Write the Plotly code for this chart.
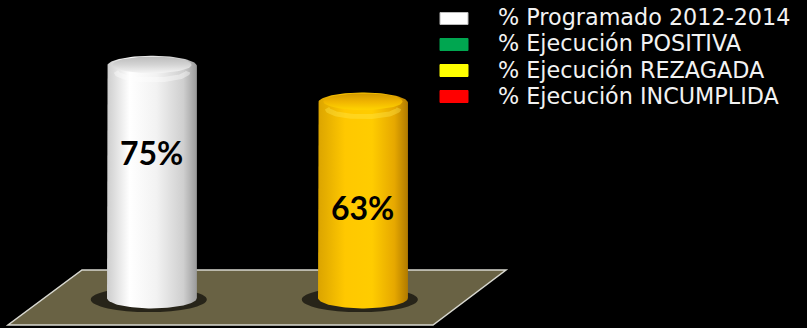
import numpy as np
import plotly.graph_objects as go

# ---- data ----
legend_labels = ["% Programado 2012-2014", "% Ejecución POSITIVA",
                 "% Ejecución REZAGADA", "% Ejecución INCUMPLIDA"]
legend_colors = ["#ffffff", "#00a650", "#ffff00", "#ff0000"]
bar_names = ["% Programado 2012-2014", "% Ejecución REZAGADA"]
bar_values = [75, 63]

# ---- styles ----
W, H = 807, 328
body_scales = [
    [[0, "#cdcdcd"], [0.25, "#ffffff"], [0.55, "#f2f2f2"], [0.85, "#cfcfcf"], [1, "#9a9a9a"]],
    [[0, "#dba400"], [0.3, "#ffc800"], [0.6, "#ffcc00"], [0.85, "#e6a800"], [1, "#b07a00"]],
]
cap_scales = [
    [[0, "#f4f4f4"], [0.5, "#d4d4d4"], [1, "#bcbcbc"]],
    [[0, "#ffd400"], [0.5, "#f0b400"], [1, "#d29a00"]],
]
rim_colors = ["#ffffff", "#ffe64a"]
label_frac = [0.635, 0.47]
half_w = 0.213      # x units
ell_h = 3.4         # y units
x_range = [-0.720, 3.104]
y_range = [-9.8, 97.4]

fig = go.Figure()

t = np.linspace(0, np.pi, 60)
for i, (name, v) in enumerate(zip(bar_names, bar_values)):
    top_x = i - half_w * np.cos(t)
    top_y = v + 0.8 + ell_h * np.sin(t)
    bot_x = i + half_w * np.cos(t)
    bot_y = 0 - ell_h * np.sin(t)
    xs = np.concatenate([[i - half_w], top_x, [i + half_w], bot_x])
    ys = np.concatenate([[0], top_y, [0], bot_y])
    fig.add_trace(go.Scatter(
        x=xs, y=ys, mode="lines", fill="toself", line=dict(width=0),
        fillgradient=dict(type="horizontal", colorscale=body_scales[i]),
        hoverinfo="skip", showlegend=False, name=name))
    rx = i - 0.8 * half_w * np.cos(t)
    ry = v - 1.0 - 0.8 * ell_h * np.sin(t)
    fig.add_trace(go.Scatter(
        x=rx, y=ry, mode="lines", line=dict(width=5, color=rim_colors[i]),
        opacity=0.4, hoverinfo="skip", showlegend=False))
    tt = np.linspace(0, 2 * np.pi, 100)
    cx = i + 0.88 * half_w * np.cos(tt)
    cy = v + 1.2 + 0.8 * ell_h * np.sin(tt)
    fig.add_trace(go.Scatter(
        x=cx, y=cy, mode="lines", fill="toself", line=dict(width=0),
        fillgradient=dict(type="vertical", colorscale=cap_scales[i]),
        hoverinfo="skip", showlegend=False))
    fig.add_annotation(x=i, y=v * label_frac[i], text=f"<b>{v}%</b>",
                       showarrow=False, font=dict(family="Lato", size=32, color="#000000"))

shapes = []
pts = [(82, 270), (506, 270), (433, 325), (8, 325)]
path = "M " + " L ".join(f"{x / W:.4f},{1 - y / H:.4f}" for x, y in pts) + " Z"
shapes.append(dict(type="path", xref="paper", yref="paper", path=path,
                   fillcolor="#696244", line=dict(color="#d8d8d0", width=1.5), layer="below"))
for i, v in enumerate(bar_values):
    shapes.append(dict(type="circle", xref="x", yref="y",
                       x0=i - 0.29, x1=i + 0.26, y0=-4.6, y1=3.6,
                       fillcolor="#1c1a12", opacity=0.85, line=dict(width=0), layer="below"))

row_y = [18.5, 44.5, 70.5, 96.5]
for lab, col, ry in zip(legend_labels, legend_colors, row_y):
    shapes.append(dict(type="rect", xref="paper", yref="paper",
                       x0=440 / W, x1=468 / W, y0=1 - (ry + 6) / H, y1=1 - (ry - 6) / H,
                       fillcolor=col, line=dict(color="#bbbbbb" if col == "#ffffff" else col, width=1)))
    fig.add_annotation(xref="paper", yref="paper", x=496 / W, y=1 - (ry - 1) / H,
                       xanchor="left", yanchor="middle", text=lab, showarrow=False,
                       font=dict(family="DejaVu Sans", size=22.3, color="#f2f2f2"))

fig.update_layout(
    width=W, height=H, margin=dict(l=0, r=0, t=0, b=0),
    paper_bgcolor="#000000", plot_bgcolor="#000000",
    xaxis=dict(visible=False, range=x_range, fixedrange=True),
    yaxis=dict(visible=False, range=y_range, fixedrange=True),
    shapes=shapes, showlegend=False,
)
fig.write_html("out.html", config={"displayModeBar": False},
               post_script="document.body.style.margin='0';document.body.style.background='#000';")
